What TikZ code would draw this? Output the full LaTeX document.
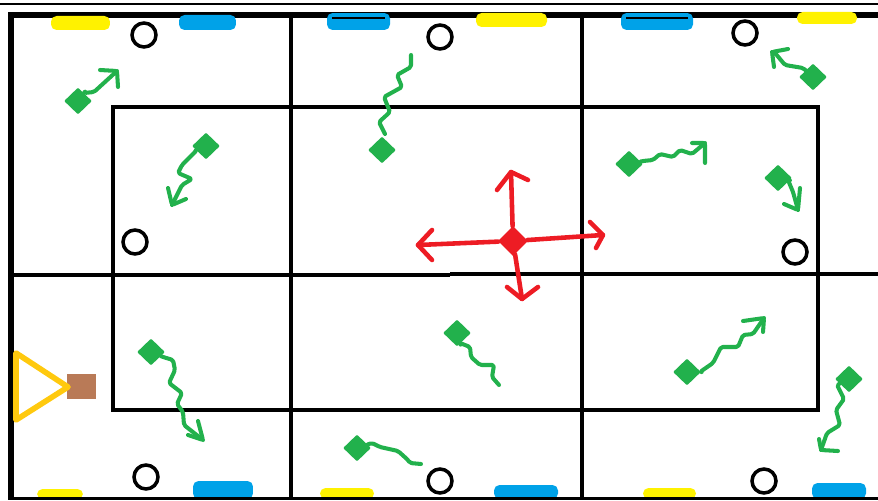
\documentclass[tikz,border=0pt]{standalone}
\usepackage{tikz}
\usetikzlibrary{shapes.geometric}

\definecolor{pillyellow}{HTML}{FFF200}
\definecolor{pillblue}{HTML}{00A2E8}
\definecolor{botgreen}{HTML}{22B14C}
\definecolor{hubred}{HTML}{ED1C24}
\definecolor{gunorange}{HTML}{FFC90E}
\definecolor{gunbrown}{HTML}{B97A57}

\begin{document}
\begin{tikzpicture}[
  x=0.02cm, y=-0.02cm,
  wall/.style={draw=black, line width=1.9pt},
  outer/.style={draw=black, line width=3.9pt},
  ypill/.style 2 args={rectangle, rounded corners=1.1mm, inner sep=0pt, fill=pillyellow, minimum width=#1cm, minimum height=#2cm},
  bpill/.style 2 args={rectangle, rounded corners=1.1mm, inner sep=0pt, fill=pillblue, minimum width=#1cm, minimum height=#2cm},
  post/.style={circle, draw=black, line width=2pt, fill=white, inner sep=0pt, minimum size=0.48cm},
  bot/.style={diamond, fill=botgreen, inner sep=0pt, minimum width=0.56cm, minimum height=0.54cm, rounded corners=0.5pt},
  wiggle/.style={draw=botgreen, line width=2.3pt, rounded corners=1pt, line cap=round, line join=round},
  redarr/.style={draw=hubred, line width=2.6pt, line cap=round, line join=round}
]
  \useasboundingbox (0,0) rectangle (878,500);

  % walls
  \draw[draw=black, line width=1.3pt] (0,4) -- (878,4);
  \draw[outer] (878,15) -- (11,15) -- (11,498);
  \draw[wall] (291,15) -- (291,498);
  \draw[wall] (582,15) -- (582,498);
  \draw[wall] (11,275) -- (450,275);
  \draw[wall] (450,274) -- (878,274);
  \draw[wall] (113,107) rectangle (818,410);

  % pills
  \node[ypill={1.18}{0.28}] (y1) at (80.5,23) {};
  \node[bpill={1.14}{0.30}] (b1) at (207.5,22.5) {};
  \node[bpill={1.26}{0.34}] (b2) at (358.5,21.5) {};
  \node[ypill={1.42}{0.28}] (y2) at (511.5,20) {};
  \node[bpill={1.44}{0.34}] (b3) at (657,21.5) {};
  \node[ypill={1.20}{0.24}] (y3) at (827,18) {};
  \node[ypill={0.92}{0.20}] (y4) at (60,494) {};
  \node[bpill={1.20}{0.36}] (b4) at (223,490) {};
  \node[ypill={1.08}{0.22}] (y5) at (347,493.5) {};
  \node[bpill={1.28}{0.28}] (b5) at (526,492) {};
  \node[ypill={1.06}{0.22}] (y6) at (669.5,493.5) {};
  \node[bpill={1.08}{0.32}] (b6) at (839,491) {};
  \draw[draw=black, line width=0.6pt] (332,18) -- (385,18);
  \draw[draw=black, line width=0.6pt] (626,18) -- (688,18);
  \draw[draw=black, line width=1.4pt] (8,498.5) -- (878,498.5);

  % posts
  \node[post] (p1) at (144,35) {};
  \node[post] (p2) at (135,242) {};
  \node[post] (p3) at (146,477) {};
  \node[post] (p4) at (440,37) {};
  \node[post] (p5) at (440,481) {};
  \node[post] (p6) at (745,33) {};
  \node[post] (p7) at (795,252) {};
  \node[post] (p8) at (764,481) {};

  % bots
  \node[bot] (d1) at (78,101) {};
  \node[bot] (d2) at (206,146) {};
  \node[bot] (d3) at (151,352) {};
  \node[bot] (d4) at (382,150) {};
  \node[bot] (d5) at (457,333) {};
  \node[bot] (d6) at (357,448) {};
  \node[bot] (d7) at (629,164) {};
  \node[bot] (d8) at (778,178) {};
  \node[bot] (d9) at (813,77) {};
  \node[bot] (d10) at (687,372) {};
  \node[bot] (d11) at (849,379) {};

  % bot tracks
  \coordinate (g4start) at (385,134);
  \draw[wiggle] (d1) -- (84,93) -- (94,92) -- (117,71) coordinate (g1tip);
  \draw[wiggle] (100,70) -- (g1tip) -- (118,87);
  \draw[wiggle] (d2) -- (197,150) -- (182,165) -- (178,173) -- (192,179) -- (182,185) -- (172,205) coordinate (g2tip);
  \draw[wiggle] (168,188) -- (g2tip) -- (186,199);
  \draw[wiggle] (d3) -- (163,357) -- (173,360) -- (175,370) -- (169,383) -- (182,393) -- (177,404) -- (183,412) -- (184,425) -- (203,440) coordinate (g3tip);
  \draw[wiggle] (198,421) -- (g3tip) -- (188,435);
  \draw[wiggle] (g4start) -- (379,122) -- (390,112) -- (384,97) -- (402,87) -- (397,75) -- (411,67) -- (411,55) coordinate (g4tip);
  \draw[wiggle] (d5) -- (460,343) -- (470,347) -- (471,357) -- (480,365) -- (494,365) -- (492,377) -- (499,385) coordinate (g5tip);
  \draw[wiggle] (d6) -- (372,443) -- (380,447) -- (398,451) -- (408,460) -- (410,463) -- (421,464) coordinate (g6tip);
  \draw[wiggle] (d7) -- (643,161) -- (653,160) -- (660,154) -- (673,157) -- (680,150) -- (692,154) -- (705,143) coordinate (g7tip);
  \draw[wiggle] (692,143) -- (g7tip) -- (705,163);
  \draw[wiggle] (d8) -- (788,180) -- (793,192) -- (798,210) coordinate (g8tip);
  \draw[wiggle] (800,188) -- (g8tip) -- (784,204);
  \draw[wiggle] (d9) -- (803,68) -- (785,65) -- (775,53) -- (772,52) coordinate (g9tip);
  \draw[wiggle] (788,49) -- (g9tip) -- (774,67);
  \draw[wiggle] (d10) -- (700,372) -- (713,363) -- (721,347) -- (738,347) -- (743,335) -- (753,334) -- (764,318) coordinate (g10tip);
  \draw[wiggle] (743,321) -- (g10tip) -- (763,332);
  \draw[wiggle] (d11) -- (837,385) -- (844,399) -- (836,410) -- (840,425) -- (827,433) -- (821,450) coordinate (g11tip);
  \draw[wiggle] (838,451) -- (g11tip) -- (819,439);

  % red hub
  \node[diamond, fill=hubred, inner sep=0pt, minimum width=0.6cm, minimum height=0.6cm] (hub) at (513,241) {};
  \coordinate (hubup) at (511,172);
  \coordinate (hubdown) at (522,299);
  \coordinate (hubleft) at (418,245);
  \coordinate (hubright) at (603,235);
  \draw[redarr] (hub) -- (hubup);
  \draw[redarr] (497,190) -- (hubup) -- (528,180);
  \draw[redarr] (hub) -- (hubdown);
  \draw[redarr] (507,287) -- (hubdown) -- (538,287);
  \draw[redarr] (hub) -- (hubleft);
  \draw[redarr] (432,230) -- (hubleft) -- (432,260);
  \draw[redarr] (hub) -- (hubright);
  \draw[redarr] (590,222) -- (hubright) -- (596,248);

  % gun
  \node[rectangle, fill=gunbrown, inner sep=0pt, minimum width=0.58cm, minimum height=0.50cm] (barrel) at (81.5,386.5) {};
  \node[draw=none, inner sep=0pt] (muzzle) at (68,387) {};
  \coordinate (guntop) at (16,353);
  \coordinate (gunbot) at (16,420);
  \draw[draw=gunorange, line width=3.2pt, line join=round, line cap=round] (guntop) -- (muzzle.center) -- (gunbot) -- cycle;
\end{tikzpicture}
\end{document}
